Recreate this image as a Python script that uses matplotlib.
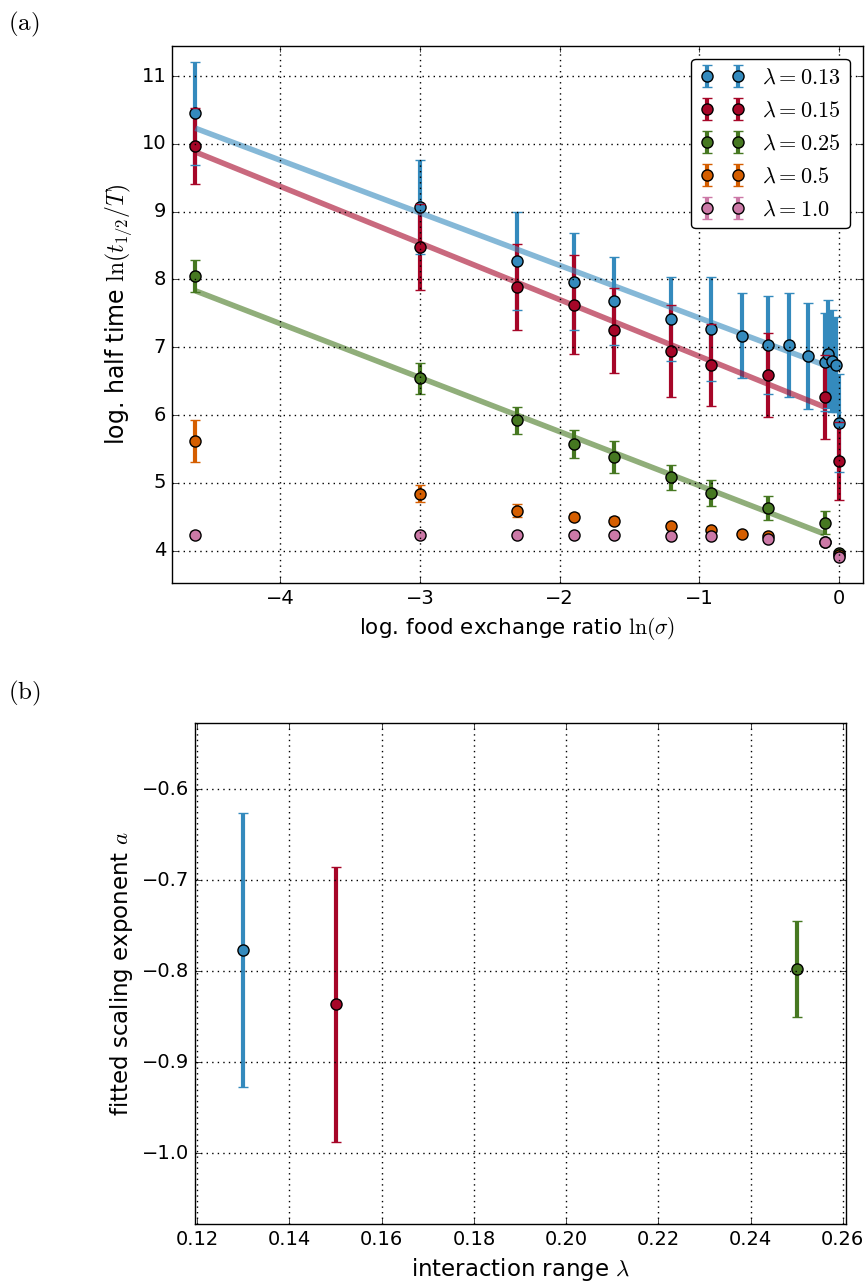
import numpy as np
import matplotlib
matplotlib.use('Agg')
import matplotlib.pyplot as plt

# panel (a): half time vs food exchange ratio
sigma_013 = [0.01, 0.05, 0.1, 0.15, 0.2, 0.3, 0.4, 0.5, 0.6, 0.7, 0.8, 0.9, 0.925, 0.95, 0.975, 1.0]
t_013 = [10.45, 9.07, 8.27, 7.97, 7.68, 7.42, 7.265, 7.17, 7.03, 7.03, 6.87, 6.78, 6.90, 6.80, 6.74, 5.88]
e_013 = [0.76, 0.69, 0.72, 0.72, 0.65, 0.62, 0.77, 0.63, 0.72, 0.77, 0.78, 0.72, 0.80, 0.75, 0.70, 0.72]

sigma_015 = [0.01, 0.05, 0.1, 0.15, 0.2, 0.3, 0.4, 0.6, 0.9, 1.0]
t_015 = [9.975, 8.48, 7.89, 7.63, 7.25, 6.95, 6.74, 6.59, 6.27, 5.32]
e_015 = [0.56, 0.64, 0.63, 0.73, 0.63, 0.68, 0.60, 0.62, 0.62, 0.57]

sigma_025 = [0.01, 0.05, 0.1, 0.15, 0.2, 0.3, 0.4, 0.6, 0.9, 1.0]
t_025 = [8.05, 6.544, 5.92, 5.57, 5.38, 5.08, 4.85, 4.63, 4.41, 3.96]
e_025 = [0.235, 0.23, 0.20, 0.21, 0.24, 0.18, 0.19, 0.18, 0.17, 0.03]

sigma_05 = [0.01, 0.05, 0.1, 0.15, 0.2, 0.3, 0.4, 0.5, 0.6, 0.9, 1.0]
t_05 = [5.62, 4.84, 4.59, 4.50, 4.44, 4.36, 4.30, 4.25, 4.22, 4.13, 3.93]
e_05 = [0.31, 0.13, 0.10, 0.05, 0.05, 0.04, 0.03, 0.03, 0.03, 0.03, 0.03]

sigma_10 = [0.01, 0.05, 0.1, 0.15, 0.2, 0.3, 0.4, 0.6, 0.9, 1.0]
t_10 = [4.235, 4.235, 4.235, 4.23, 4.23, 4.22, 4.21, 4.17, 4.12, 3.91]
e_10 = [0.05, 0.04, 0.03, 0.03, 0.03, 0.03, 0.03, 0.03, 0.03, 0.03]

labels = [r'$\lambda=0.13$', r'$\lambda=0.15$', r'$\lambda=0.25$', r'$\lambda=0.5$', r'$\lambda=1.0$']
colors = ['#348ABD', '#A60628', '#467821', '#D55E00', '#CC79A7']

# panel (b): fitted exponents (also the slopes of the fit lines in (a))
lam = [0.13, 0.15, 0.25]
a_fit = [-0.7766, -0.8363, -0.7975]
a_err = [0.150, 0.151, 0.053]
b_fit = [6.655, 6.03, 4.16]
fit_range = [0.01, 0.9]

plt.style.use('classic')
plt.rcParams['figure.facecolor'] = 'white'
plt.rcParams['font.size'] = 14
plt.rcParams['mathtext.fontset'] = 'cm'

fig = plt.figure(figsize=(8.65, 12.84), dpi=100)
ax1 = fig.add_axes([0.1985, 0.5459, 0.7992, 0.4185])
ax2 = fig.add_axes([0.2254, 0.0465, 0.7526, 0.3902])


def draw_eb(ax, x, y, e, c, i, label=None):
    eb = ax.errorbar(x, y, yerr=e, fmt='o', color=c, ecolor=c, elinewidth=3,
                     capsize=3.5, capthick=3, markersize=8, markeredgecolor='k',
                     markeredgewidth=1, label=label)
    data_line, caplines, barcols = eb.lines
    for bc in barcols:
        bc.set_zorder(2.0)
    for cl in caplines:
        cl.set_zorder(2.1 + 0.02 * i)
    data_line.set_zorder(2.11 + 0.02 * i)
    return eb


# fit lines
xf = np.log(np.array(fit_range))
for k in range(3):
    ax1.plot(xf, a_fit[k] * xf + b_fit[k], color=colors[k], lw=4, alpha=0.6,
             solid_capstyle='butt', zorder=2.05)

series = [(sigma_013, t_013, e_013), (sigma_015, t_015, e_015), (sigma_025, t_025, e_025),
          (sigma_05, t_05, e_05), (sigma_10, t_10, e_10)]
for i, (s, t, e) in enumerate(series):
    draw_eb(ax1, np.log(s), t, e, colors[i], i, labels[i])

ax1.set_xlim(np.log(0.01) - 0.17, 0.17)
ax1.set_ylim(3.52, 11.45)
ax1.set_xticks([-4, -3, -2, -1, 0])
ax1.set_yticks([4, 5, 6, 7, 8, 9, 10, 11])
ax1.grid(True, color='k', linestyle=':', linewidth=1)
ax1.set_axisbelow(False)
ax1.set_xlabel(r'log. food exchange ratio $\ln(\sigma)$', fontsize=15.5)
ax1.set_ylabel(r'log. half time $\ln(t_{1/2}/T)$', fontsize=17)
leg = ax1.legend(loc='upper right', numpoints=2, fontsize=16, fancybox=True,
                 labelspacing=0.58, borderaxespad=0.6)

for i in range(3):
    draw_eb(ax2, [lam[i]], [a_fit[i]], [a_err[i]], colors[i], i)
ax2.set_xlim(0.1195, 0.2607)
ax2.set_ylim(-1.078, -0.5275)
ax2.set_xticks([0.12, 0.14, 0.16, 0.18, 0.20, 0.22, 0.24, 0.26])
ax2.set_yticks([-1.0, -0.9, -0.8, -0.7, -0.6])
ax2.grid(True, color='k', linestyle=':', linewidth=1)
ax2.set_axisbelow(False)
ax2.set_xlabel(r'interaction range $\lambda$', fontsize=16.5)
ax2.set_ylabel(r'fitted scaling exponent $a$', fontsize=16.5)

fig.text(0.009, 0.992, r'$\mathrm{(a)}$', fontsize=18, va='top', ha='left')
fig.text(0.009, 0.471, r'$\mathrm{(b)}$', fontsize=18, va='top', ha='left')

fig.savefig('out.png', dpi=100)
